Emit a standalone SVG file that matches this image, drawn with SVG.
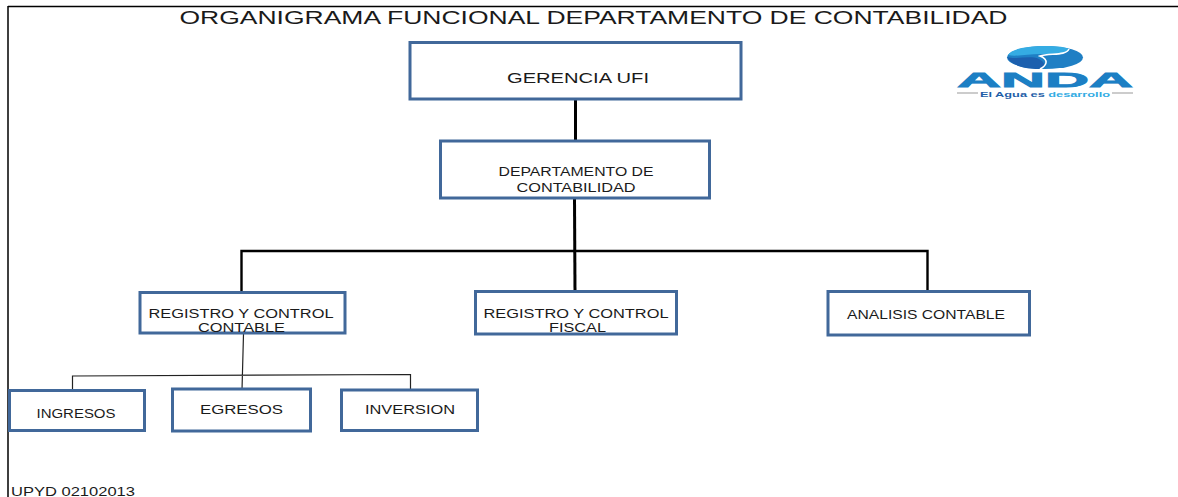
<svg xmlns="http://www.w3.org/2000/svg" width="1178" height="497" viewBox="0 0 1178 497">
<style>
.box{fill:#fff;stroke:#41689a;stroke-width:3}
.t{font-family:"Liberation Sans",Arial,sans-serif;fill:#1a1a1a;text-anchor:middle}
.c{stroke:#000;fill:none;stroke-linecap:butt}
.thick{stroke-width:3}
.mid{stroke-width:2.4}
.thin{stroke:#222;stroke-width:1.2}
</style>
<rect width="1178" height="497" fill="#fff"/>
<g id="frame"><path class="c" d="M8 6.500H1178M8 6V497" stroke-width="1.500"/></g>
<text id="title" class="t" x="593.500" y="24" font-size="18" textLength="828" lengthAdjust="spacingAndGlyphs">ORGANIGRAMA FUNCIONAL DEPARTAMENTO DE CONTABILIDAD</text>
<g id="connectors">
<path class="c thick" d="M575.500 99V142"/>
<path class="c thick" d="M574.500 198L575 291"/>
<path class="c mid" d="M241.500 292V251H927.500V291"/>
<path class="c thin" d="M243.500 334L242 390M72.500 390V376L410.500 374.500V390"/>
</g>
<g id="gerencia"><rect class="box" x="410" y="42.500" width="331" height="56.500"/><text class="t" x="578" y="83" font-size="14" textLength="142" lengthAdjust="spacingAndGlyphs">GERENCIA UFI</text></g>
<g id="departamento"><rect class="box" x="440.500" y="141" width="269" height="57"/><text class="t" x="576" y="176" font-size="12" textLength="155" lengthAdjust="spacingAndGlyphs">DEPARTAMENTO DE</text><text class="t" x="576" y="192" font-size="12" textLength="119" lengthAdjust="spacingAndGlyphs">CONTABILIDAD</text></g>
<g id="registro-contable"><rect class="box" x="140" y="292.500" width="205" height="40.500"/><text class="t" x="241" y="318" font-size="12.500" textLength="185" lengthAdjust="spacingAndGlyphs">REGISTRO Y CONTROL</text><text class="t" x="241.500" y="332" font-size="12.500" textLength="87" lengthAdjust="spacingAndGlyphs">CONTABLE</text></g>
<g id="registro-fiscal"><rect class="box" x="475.500" y="291.500" width="201" height="42.500"/><text class="t" x="576" y="318" font-size="12.500" textLength="185" lengthAdjust="spacingAndGlyphs">REGISTRO Y CONTROL</text><text class="t" x="577.500" y="332" font-size="12.500" textLength="57" lengthAdjust="spacingAndGlyphs">FISCAL</text></g>
<g id="analisis"><rect class="box" x="828" y="291.500" width="201.500" height="43.500"/><text class="t" x="926" y="319" font-size="12.500" textLength="158" lengthAdjust="spacingAndGlyphs">ANALISIS CONTABLE</text></g>
<g id="ingresos"><rect class="box" x="9.500" y="390.500" width="135" height="40"/><text class="t" x="76" y="418" font-size="12.500" textLength="79" lengthAdjust="spacingAndGlyphs">INGRESOS</text></g>
<g id="egresos"><rect class="box" x="172.500" y="389" width="138" height="42"/><text class="t" x="241.500" y="414" font-size="12.500" textLength="83" lengthAdjust="spacingAndGlyphs">EGRESOS</text></g>
<g id="inversion"><rect class="box" x="341.500" y="390" width="136" height="40.500"/><text class="t" x="410" y="414" font-size="12.500" textLength="90" lengthAdjust="spacingAndGlyphs">INVERSION</text></g>
<g id="logo">
<ellipse cx="1045" cy="57.500" rx="38" ry="11.500" fill="#1f7fc4"/>
<path d="M1008 55C1012 49 1026 46 1045 46C1058 46 1066 47 1069 49C1067 55 1055 54 1040 54C1028 54 1016 57 1008 55Z" fill="#35ace3"/>
<path d="M1007 57C1016 60 1030 55 1039 59C1046 63 1046 67 1039 69C1022 69 1010 64 1007 57Z" fill="#1c5fae"/>
<path d="M1069 49C1066 56 1050 53 1040 56C1050 60 1046 66 1040 69" fill="none" stroke="#fff" stroke-width="1.600"/>
<text x="1045" y="87" font-family="Liberation Sans,Arial,sans-serif" font-weight="700" font-size="21" text-anchor="middle" fill="#1c7fc4" stroke="#1c7fc4" stroke-width="0.800" textLength="176" lengthAdjust="spacingAndGlyphs">ANDA</text>
<path d="M957 93H978M1112 93H1133" stroke="#999" stroke-width="1"/>
<text x="1045" y="97" font-family="Liberation Sans,Arial,sans-serif" font-size="7" font-weight="700" text-anchor="middle" fill="#1f5fa8" textLength="130" lengthAdjust="spacingAndGlyphs">El Agua es <tspan fill="#35ace3">desarrollo</tspan></text>
</g>
<text id="code" x="11" y="496" font-family="Liberation Sans,Arial,sans-serif" font-size="12.500" fill="#1a1a1a" textLength="124" lengthAdjust="spacingAndGlyphs">UPYD 02102013</text>
</svg>
